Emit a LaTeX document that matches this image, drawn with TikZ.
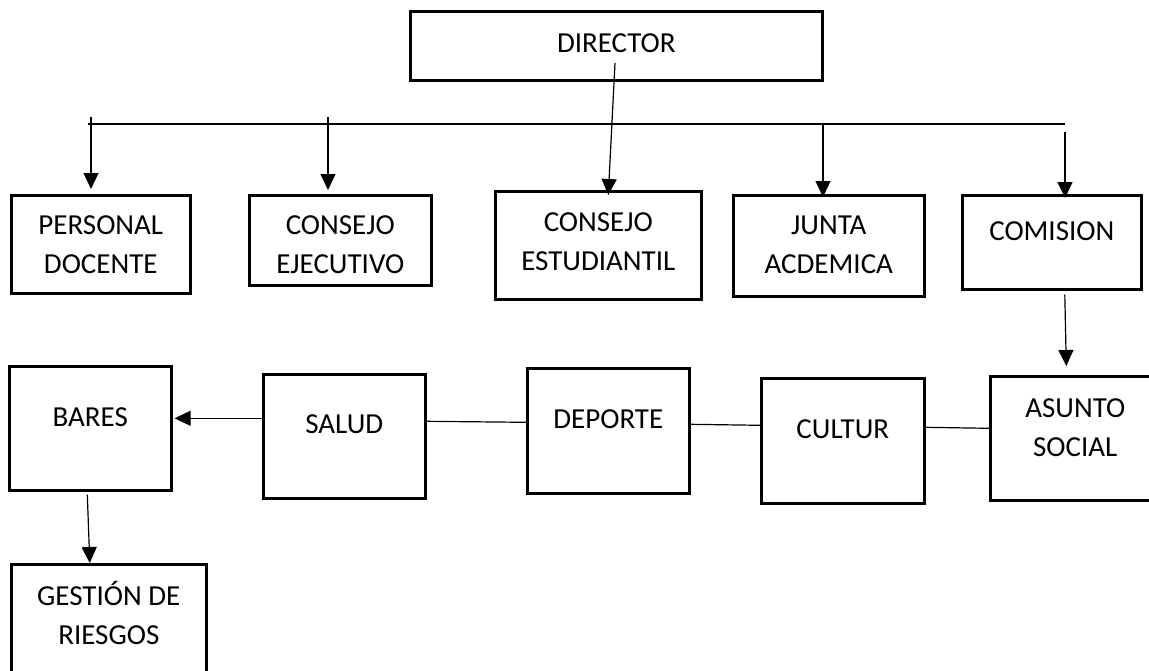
\documentclass[tikz,border=0pt]{standalone}
\usepackage{fontspec}
\setmainfont{Carlito}
\usepackage{tikz}
\usetikzlibrary{arrows.meta}

\tikzset{
	caja/.style n args={3}{draw, line width=2.6pt, inner sep=0pt, anchor=north west, text width=#1, align=flush center, text height=#2, text depth=#3, font=\fontsize{29}{39.5}\selectfont},
	flecha/.style={line width=1.2pt, -{Triangle[width=15pt,length=16pt]}},
	linea/.style={line width=1.2pt}
}

\begin{document}
\begin{tikzpicture}[x=1pt,y=-1pt]
				\useasboundingbox (0,0) rectangle (1149,670);
				\node[caja={412pt}{41pt}{28pt}] (director) at (409,10) {DIRECTOR};
				\node[caja={179pt}{39pt}{59pt}] (personal) at (10,194) {PERSONAL\\DOCENTE};
				\node[caja={182pt}{39pt}{51pt}] (ejecutivo) at (248,194) {CONSEJO\\EJECUTIVO};
				\node[caja={206pt}{40pt}{68pt}] (estudiantil) at (494,190) {CONSEJO\\ESTUDIANTIL};
				\node[caja={191pt}{39pt}{62pt}] (junta) at (732,194) {JUNTA\\ACDEMICA};
				\node[caja={179pt}{45pt}{49pt}] (comision) at (961,194) {COMISION};
				\node[caja={170pt}{41pt}{83pt}] (asunto) at (989,375) {ASUNTO\\SOCIAL};
				\node[caja={163pt}{60pt}{65pt}] (cultur) at (760,377) {CULTUR};
				\node[caja={162pt}{60pt}{65pt}] (deporte) at (526,367) {DEPORTE};
				\node[caja={162pt}{59pt}{65pt}] (salud) at (262,373) {SALUD};
				\node[caja={162pt}{60pt}{64pt}] (bares) at (8,365) {BARES};
				\node[caja={195pt}{41pt}{89pt}] (gestion) at (10,563) {GESTIÓN DE\\RIESGOS};

				\coordinate (barraizq) at (88,124);
				\coordinate (barrader) at (1065,124);
				\coordinate (dirpie) at (615,63);
				\coordinate (bajapersonal) at (91,117);
				\coordinate (bajaejecutivo) at (328,117);
				\coordinate (bajajunta) at (823,125);
				\coordinate (bajacomision) at (1065,132);

				\draw[linea] (barraizq) -- (barrader);
				\draw[flecha] (dirpie) -- ([xshift=10pt,yshift=-5pt]estudiantil.north);
				\draw[flecha] (bajapersonal) -- ([yshift=5pt]bajapersonal |- personal.north);
				\draw[flecha] (bajaejecutivo) -- ([yshift=4pt]bajaejecutivo |- ejecutivo.north);
				\draw[flecha] (bajajunta) -- ([yshift=-3pt]bajajunta |- junta.north);
				\draw[flecha] (bajacomision) -- ([yshift=-4pt]bajacomision |- comision.north);
				\draw[flecha] ([xshift=13pt,yshift=-4pt]comision.south) -- ([xshift=-9pt,yshift=9pt]asunto.north);
				\draw[linea] ([yshift=13.5pt]cultur.east) -- ([yshift=10pt]asunto.west);
				\draw[linea] ([yshift=6.5pt]deporte.east) -- ([yshift=15.5pt]cultur.west);
				\draw[linea] ([yshift=15pt]salud.east) -- ([yshift=8.5pt]deporte.west);
				\draw[flecha] ([yshift=18pt]salud.west) -- ([xshift=2pt,yshift=10pt]bares.east);
				\draw[flecha] ([xshift=-3pt,yshift=-3pt]bares.south) -- ([xshift=-19pt]gestion.north);
			\end{tikzpicture}
\end{document}
